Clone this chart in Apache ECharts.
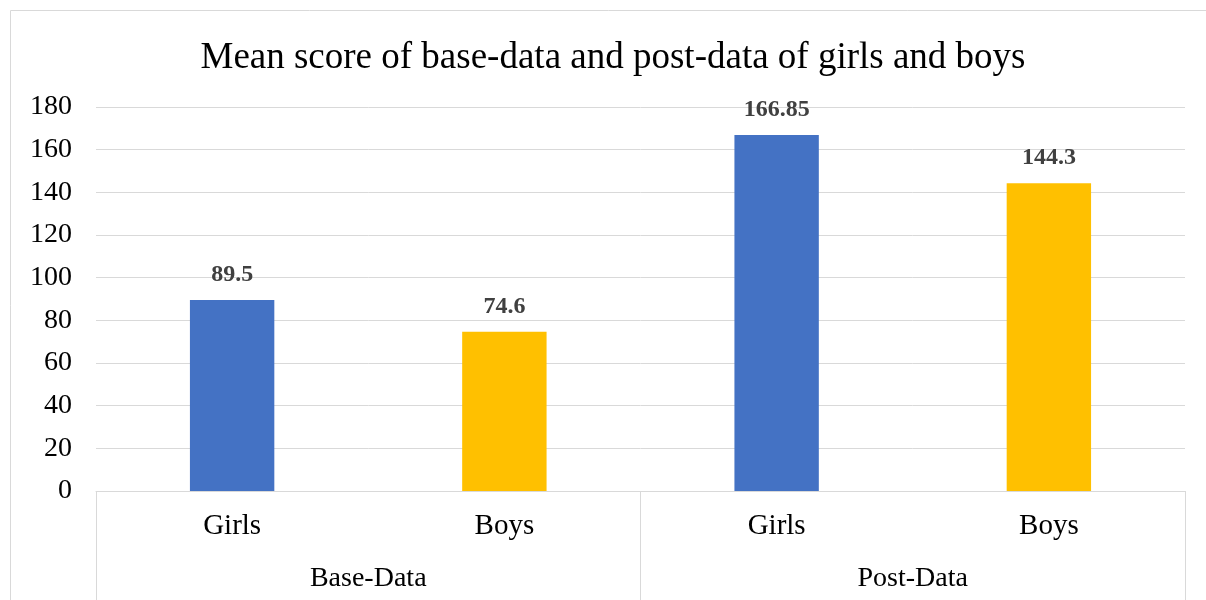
<!DOCTYPE html>
<html>
<head>
<meta charset="utf-8">
<script src="https://cdn.jsdelivr.net/npm/echarts@6/dist/echarts.min.js"></script>
<style>
  html, body { margin: 0; padding: 0; background: #fff; }
  #chart { width: 1206px; height: 600px; }
</style>
</head>
<body>
<div id="chart"></div>
<script>
const titleText = "Mean score of base-data and post-data of girls and boys";
const genders = ["Girls", "Boys", "Girls", "Boys"];
const groups = ["Base-Data", "Post-Data"];
const scores = [89.5, 74.6, 166.85, 144.3];
const barColors = ["#4472C4", "#FFC000", "#4472C4", "#FFC000"];

const serif = "'Liberation Serif', 'Times New Roman', serif";
const chart = echarts.init(document.getElementById("chart"));

chart.setOption({
  animation: false,
  graphic: [
    {
      type: "rect",
      shape: { x: 10.5, y: 10.5, width: 1220, height: 620 },
      style: { fill: "none", stroke: "#d9d9d9", lineWidth: 1 },
      silent: true,
    },
  ],
  title: {
    text: titleText,
    left: 608,
    textAlign: "center",
    top: 35,
    textStyle: { fontFamily: serif, fontSize: 37, fontWeight: "normal", color: "#000" },
  },
  grid: { left: 96, right: 21, top: 107, bottom: 109, containLabel: false },
  xAxis: [
    {
      type: "category",
      data: genders,
      axisLine: { lineStyle: { color: "#d9d9d9", width: 1 } },
      axisTick: { show: false },
      axisLabel: { fontFamily: serif, fontSize: 29, color: "#000", margin: 21 },
    },
    {
      type: "category",
      data: groups,
      position: "bottom",
      axisLine: { show: false },
      axisTick: { show: true, length: 115, lineStyle: { color: "#d9d9d9" } },
      axisLabel: { fontFamily: serif, fontSize: 28, color: "#000", margin: 74 },
    },
  ],
  yAxis: {
    type: "value",
    min: 0,
    max: 180,
    interval: 20,
    axisLine: { show: false },
    axisTick: { show: false },
    splitLine: { lineStyle: { color: "#d9d9d9", width: 1 } },
    axisLabel: { fontFamily: serif, fontSize: 28, color: "#000", margin: 24 },
  },
  series: [
    {
      type: "bar",
      xAxisIndex: 0,
      barWidth: "31%",
      data: scores.map((v, i) => ({ value: v, itemStyle: { color: barColors[i] } })),
      label: {
        show: true,
        position: "top",
        distance: 13,
        fontFamily: serif,
        fontSize: 24,
        fontWeight: "bold",
        color: "#404040",
      },
    },
  ],
});

window.addEventListener("resize", () => {
  chart.resize();
});
</script>
</body>
</html>
